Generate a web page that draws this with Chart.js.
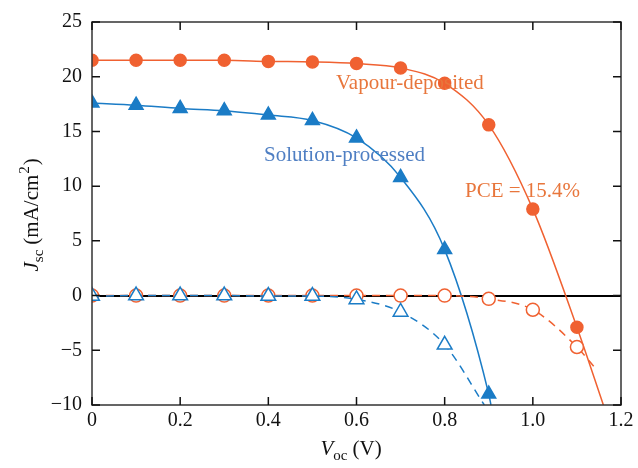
<!DOCTYPE html>
<html>
<head>
<meta charset="utf-8">
<script src="https://cdn.jsdelivr.net/npm/chart.js@4.4.1/dist/chart.umd.min.js"></script>
<style>
    html, body { margin: 0; padding: 0; background: #fff; }
    #wrap { width: 638px; height: 468px; position: relative; }
</style>
</head>
<body>
<div id="wrap"><canvas id="jv"></canvas></div>
<script>
// voltage steps (V)
const voltage = [0, 0.1, 0.2, 0.3, 0.4, 0.5, 0.6, 0.7, 0.8, 0.9, 1.0, 1.1];

// current density (mA/cm2)
const vapourLight = [21.5, 21.5, 21.5, 21.5, 21.4, 21.35, 21.2, 20.8, 19.4, 15.6, 7.9, -2.9];
const vapourDark = [0, 0, 0, 0, 0, 0, 0, 0, 0, -0.3, -1.3, -4.7];
const solutionLight = [17.6, 17.4, 17.1, 16.9, 16.5, 16.0, 14.4, 10.8, 4.2, -9.0];
const solutionDark = [-0.05, 0, 0, 0, -0.05, -0.05, -0.35, -1.5, -4.5];

// where each fitted curve leaves the plot (no marker there)
const vapourLightEnd = [1.16, -10];
const vapourDarkEnd = [1.145, -6.8];
const solutionLightEnd = [0.905, -10];
const solutionDarkEnd = [0.89, -10];

const xTicks = [0, 0.2, 0.4, 0.6, 0.8, 1.0, 1.2];
const yTicks = [-10, -5, 0, 5, 10, 15, 20, 25];

const orange = '#f06131';
const blue = '#1b7cc6';
const serif = "'Liberation Serif', 'DejaVu Serif', serif";

const toPoints = (ys, end) => {
    const pts = ys.map((y, i) => ({ x: voltage[i], y }));
    pts.push({ x: end[0], y: end[1] });
    return pts;
};

// hide the marker on the last (curve end) point
const markerRadius = (r) => (ctx) => (ctx.dataIndex === ctx.dataset.data.length - 1 ? 0 : r);

const labelsPlugin = {
    id: 'labels',
    afterDatasetsDraw(chart) {
        const { ctx, chartArea: a, scales } = chart;
        ctx.save();

        // frame
        ctx.strokeStyle = '#333';
        ctx.lineWidth = 1.5;
        ctx.strokeRect(a.left, a.top, a.right - a.left, a.bottom - a.top);

        // inward ticks on all four sides
        ctx.strokeStyle = '#111';
        ctx.lineWidth = 1.5;
        const len = 8;
        xTicks.forEach((v) => {
            const px = scales.x.getPixelForValue(v);
            ctx.beginPath();
            ctx.moveTo(px, a.bottom); ctx.lineTo(px, a.bottom - len);
            ctx.moveTo(px, a.top); ctx.lineTo(px, a.top + len);
            ctx.stroke();
        });
        yTicks.forEach((v) => {
            const py = scales.y.getPixelForValue(v);
            ctx.beginPath();
            ctx.moveTo(a.left, py); ctx.lineTo(a.left + len, py);
            ctx.moveTo(a.right, py); ctx.lineTo(a.right - len, py);
            ctx.stroke();
        });

        // annotations
        ctx.font = `21px ${serif}`;
        ctx.textBaseline = 'alphabetic';
        ctx.textAlign = 'left';
        ctx.fillStyle = '#e8763c';
        ctx.fillText('Vapour-deposited', 336, 89);
        ctx.fillStyle = '#4f7fc3';
        ctx.fillText('Solution-processed', 264, 161);
        ctx.fillStyle = '#e8763c';
        ctx.fillText('PCE = 15.4%', 465, 197);

        // x-axis title: V_oc (V)
        const cx = (a.left + a.right) / 2;
        let x = cx - 36;
        const by = 455;
        ctx.fillStyle = '#111';
        ctx.font = `italic 21px ${serif}`;
        ctx.fillText('V', x, by);
        x += ctx.measureText('V').width;
        ctx.font = `15px ${serif}`;
        ctx.fillText('oc', x, by + 5);
        x += ctx.measureText('oc').width + 5;
        ctx.font = `21px ${serif}`;
        ctx.fillText('(V)', x, by);

        // y-axis title: J_sc (mA/cm^2)
        ctx.translate(38, (a.top + a.bottom) / 2 + 58);
        ctx.rotate(-Math.PI / 2);
        let y = 0;
        ctx.font = `italic 21px ${serif}`;
        ctx.fillText('J', y, 0);
        y += ctx.measureText('J').width;
        ctx.font = `15px ${serif}`;
        ctx.fillText('sc', y, 5);
        y += ctx.measureText('sc').width + 5;
        ctx.font = `21px ${serif}`;
        ctx.fillText('(mA/cm', y, 0);
        y += ctx.measureText('(mA/cm').width;
        ctx.font = `15px ${serif}`;
        ctx.fillText('2', y + 1, -9);
        y += ctx.measureText('2').width + 2;
        ctx.font = `21px ${serif}`;
        ctx.fillText(')', y, 0);

        ctx.restore();
    },
};

new Chart(document.getElementById('jv'), {
    type: 'scatter',
    data: {
        datasets: [
            {
                label: 'Solution-processed dark',
                data: toPoints(solutionDark, solutionDarkEnd),
                showLine: true,
                borderColor: blue,
                borderWidth: 1.5,
                borderDash: [8, 6],
                cubicInterpolationMode: 'monotone',
                pointStyle: 'triangle',
                pointRadius: markerRadius(8.5),
                pointBackgroundColor: '#fff',
                pointBorderColor: blue,
                pointBorderWidth: 1.5,
                order: 1,
            },
            {
                label: 'Vapour-deposited dark',
                data: toPoints(vapourDark, vapourDarkEnd),
                showLine: true,
                borderColor: orange,
                borderWidth: 1.5,
                borderDash: [8, 6],
                cubicInterpolationMode: 'monotone',
                pointStyle: 'circle',
                pointRadius: markerRadius(6.5),
                pointBackgroundColor: '#fff',
                pointBorderColor: orange,
                pointBorderWidth: 1.5,
                order: 2,
            },
            {
                label: 'Solution-processed',
                data: toPoints(solutionLight, solutionLightEnd),
                showLine: true,
                borderColor: blue,
                borderWidth: 1.5,
                cubicInterpolationMode: 'monotone',
                pointStyle: 'triangle',
                pointRadius: markerRadius(8),
                pointBackgroundColor: blue,
                pointBorderColor: blue,
                order: 3,
            },
            {
                label: 'Vapour-deposited',
                data: toPoints(vapourLight, vapourLightEnd),
                showLine: true,
                borderColor: orange,
                borderWidth: 1.5,
                cubicInterpolationMode: 'monotone',
                pointStyle: 'circle',
                pointRadius: markerRadius(6),
                pointBackgroundColor: orange,
                pointBorderColor: orange,
                order: 4,
            },
        ],
    },
    options: {
        responsive: true,
        maintainAspectRatio: false,
        animation: false,
        layout: { padding: { top: 15, right: 17, left: 0, bottom: 0 } },
        plugins: {
            legend: { display: false },
            tooltip: { enabled: false },
        },
        scales: {
            x: {
                type: 'linear',
                min: 0,
                max: 1.2,
                afterBuildTicks: (scale) => { scale.ticks = xTicks.map((v) => ({ value: v })); },
                afterFit: (scale) => { scale.height = 63; },
                ticks: {
                    color: '#111',
                    font: { family: serif, size: 20 },
                    padding: 4,
                    maxRotation: 0,
                    callback: (v) => (v === 0 ? '0' : v.toFixed(1)),
                },
                grid: { display: false, drawTicks: false },
                border: { display: false },
            },
            y: {
                min: -10,
                max: 25,
                afterBuildTicks: (scale) => { scale.ticks = yTicks.map((v) => ({ value: v })); },
                afterFit: (scale) => { scale.width = 92; },
                ticks: {
                    color: '#111',
                    font: { family: serif, size: 20 },
                    padding: 10,
                    callback: (v) => String(v).replace('-', '\u2212'),
                },
                grid: {
                    drawTicks: false,
                    lineWidth: 2,
                    color: (c) => (c.tick && c.tick.value === 0 ? '#000' : 'rgba(0,0,0,0)'),
                },
                border: { display: false },
            },
        },
    },
    plugins: [labelsPlugin],
});
</script>
</body>
</html>
